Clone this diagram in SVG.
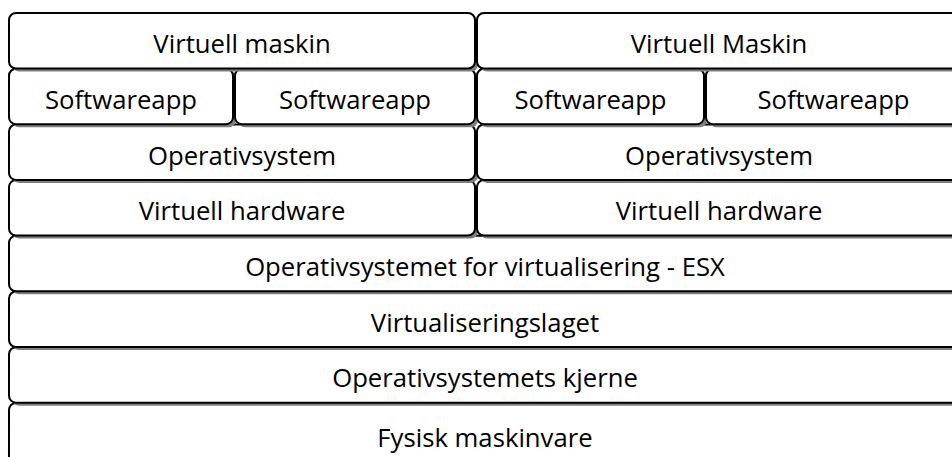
<svg xmlns="http://www.w3.org/2000/svg" width="952" height="457" viewBox="0 0 952 457">
<style>
.sh{fill:#7f7f7f;}
.bx{fill:#fff;stroke:#000;stroke-width:2;}
.t{font-family:"Open Sans","Liberation Sans",sans-serif;font-size:25.7px;fill:#000;text-anchor:middle;}
</style>
<rect width="952" height="457" fill="#fff"/>
<g id="fysisk">
<rect class="sh" x="12" y="406" width="952" height="60" rx="7"/>
<rect class="bx" x="9" y="403" width="952" height="60" rx="7"/>
<text class="t" x="485" y="447">Fysisk maskinvare</text>
</g>
<g id="kjerne">
<rect class="sh" x="12" y="350.2" width="952" height="55.5" rx="7"/>
<rect class="bx" x="9" y="347.2" width="952" height="55.5" rx="7"/>
<text class="t" x="485" y="387.4">Operativsystemets kjerne</text>
</g>
<g id="virtlag">
<rect class="sh" x="12" y="294.5" width="952" height="55.5" rx="7"/>
<rect class="bx" x="9" y="291.5" width="952" height="55.5" rx="7"/>
<text class="t" x="485" y="331.7">Virtualiseringslaget</text>
</g>
<g id="esx">
<rect class="sh" x="12" y="238.8" width="952" height="55.5" rx="7"/>
<rect class="bx" x="9" y="235.8" width="952" height="55.5" rx="7"/>
<text class="t" x="485" y="276.3">Operativsystemet for virtualisering - ESX</text>
</g>
<g id="vhw1">
<rect class="sh" x="12" y="183.1" width="466" height="55.5" rx="7"/>
<rect class="bx" x="9" y="180.1" width="466" height="55.5" rx="7"/>
<text class="t" x="242" y="220.4">Virtuell hardware</text>
</g>
<g id="vhw2">
<rect class="sh" x="480" y="183.1" width="484" height="55.5" rx="7"/>
<rect class="bx" x="477" y="180.1" width="484" height="55.5" rx="7"/>
<text class="t" x="719" y="220.4">Virtuell hardware</text>
</g>
<g id="os1">
<rect class="sh" x="12" y="127.4" width="466" height="55.5" rx="7"/>
<rect class="bx" x="9" y="124.4" width="466" height="55.5" rx="7"/>
<text class="t" x="242" y="164.7">Operativsystem</text>
</g>
<g id="os2">
<rect class="sh" x="480" y="127.4" width="484" height="55.5" rx="7"/>
<rect class="bx" x="477" y="124.4" width="484" height="55.5" rx="7"/>
<text class="t" x="719" y="164.7">Operativsystem</text>
</g>
<g id="app1">
<rect class="sh" x="12" y="71.7" width="224" height="55.5" rx="7"/>
<rect class="bx" x="9" y="68.7" width="224" height="55.5" rx="7"/>
<text class="t" x="121" y="109">Softwareapp</text>
</g>
<g id="app2">
<rect class="sh" x="238" y="71.7" width="240" height="55.5" rx="7"/>
<rect class="bx" x="235" y="68.7" width="240" height="55.5" rx="7"/>
<text class="t" x="355" y="109">Softwareapp</text>
</g>
<g id="app3">
<rect class="sh" x="480" y="71.7" width="227" height="55.5" rx="7"/>
<rect class="bx" x="477" y="68.7" width="227" height="55.5" rx="7"/>
<text class="t" x="590.5" y="109">Softwareapp</text>
</g>
<g id="app4">
<rect class="sh" x="709" y="71.7" width="255" height="55.5" rx="7"/>
<rect class="bx" x="706" y="68.7" width="255" height="55.5" rx="7"/>
<text class="t" x="833.5" y="109">Softwareapp</text>
</g>
<g id="vm1">
<rect class="sh" x="12" y="16" width="466" height="55.5" rx="7"/>
<rect class="bx" x="9" y="13" width="466" height="55.5" rx="7"/>
<text class="t" x="242" y="53">Virtuell maskin</text>
</g>
<g id="vm2">
<rect class="sh" x="480" y="16" width="484" height="55.5" rx="7"/>
<rect class="bx" x="477" y="13" width="484" height="55.5" rx="7"/>
<text class="t" x="719" y="53">Virtuell Maskin</text>
</g>
<g id="connectors"/>
</svg>
